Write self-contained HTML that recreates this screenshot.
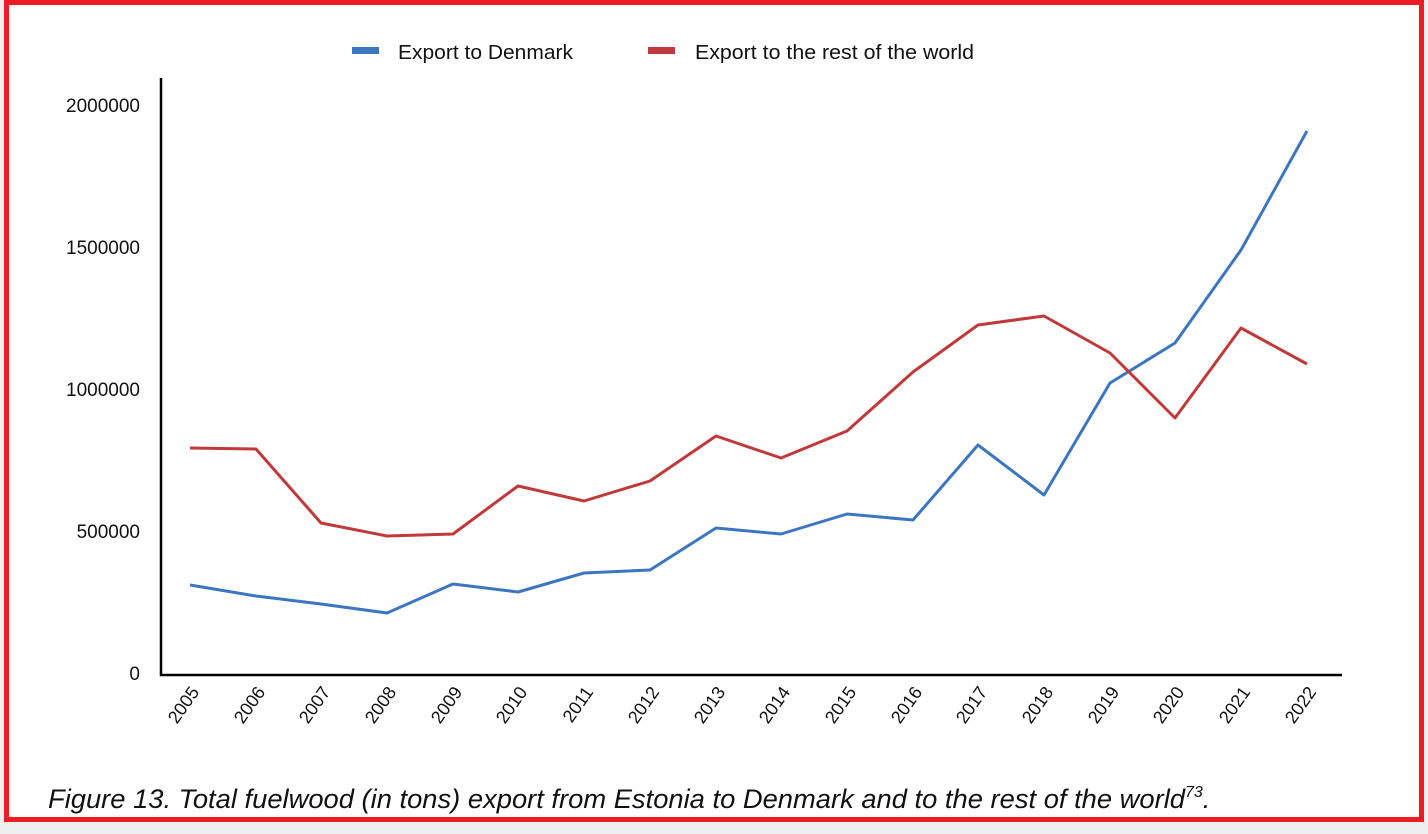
<!DOCTYPE html>
<html><head><meta charset="utf-8"><style>
html,body{margin:0;padding:0;background:#f0f0f0;}
svg{display:block;font-family:"Liberation Sans",sans-serif;}
</style></head><body>
<svg width="1428" height="834" viewBox="0 0 1428 834" xmlns="http://www.w3.org/2000/svg">
<rect x="0" y="0" width="1428" height="834" fill="#efefef"/>
<rect x="6.5" y="2.5" width="1415" height="817" fill="#fff" stroke="#ee1c25" stroke-width="5"/>
<g font-size="20" fill="#111">
<rect x="352" y="47" width="27" height="7" fill="#3d76c0"/>
<text x="398" y="59" textLength="175" lengthAdjust="spacingAndGlyphs">Export to Denmark</text>
<rect x="648" y="47" width="27" height="7" fill="#c0393b"/>
<text x="695" y="59" textLength="279" lengthAdjust="spacingAndGlyphs">Export to the rest of the world</text>
</g>
<g font-size="19" fill="#111" text-anchor="end">
<text x="140" y="112">2000000</text>
<text x="140" y="254">1500000</text>
<text x="140" y="396">1000000</text>
<text x="140" y="538">500000</text>
<text x="140" y="680">0</text>
</g>
<path d="M161 78 V675 H1342" fill="none" stroke="#000" stroke-width="2.5"/>
<g font-size="18" fill="#111" text-anchor="end">
<text transform="translate(200,692) rotate(-55)">2005</text>
<text transform="translate(266,692) rotate(-55)">2006</text>
<text transform="translate(331,692) rotate(-55)">2007</text>
<text transform="translate(397,692) rotate(-55)">2008</text>
<text transform="translate(463,692) rotate(-55)">2009</text>
<text transform="translate(528,692) rotate(-55)">2010</text>
<text transform="translate(594,692) rotate(-55)">2011</text>
<text transform="translate(660,692) rotate(-55)">2012</text>
<text transform="translate(726,692) rotate(-55)">2013</text>
<text transform="translate(791,692) rotate(-55)">2014</text>
<text transform="translate(857,692) rotate(-55)">2015</text>
<text transform="translate(923,692) rotate(-55)">2016</text>
<text transform="translate(988,692) rotate(-55)">2017</text>
<text transform="translate(1054,692) rotate(-55)">2018</text>
<text transform="translate(1120,692) rotate(-55)">2019</text>
<text transform="translate(1185,692) rotate(-55)">2020</text>
<text transform="translate(1251,692) rotate(-55)">2021</text>
<text transform="translate(1317,692) rotate(-55)">2022</text>
</g>
<polyline fill="none" stroke="#3d76c0" stroke-width="3" stroke-linejoin="round" points="190,585 256,596 321,604 387,613 453,584 518,592 584,573 650,570 716,528 781,534 847,514 913,520 978,445 1044,495 1110,383 1175,343 1241,250 1307,131"/>
<polyline fill="none" stroke="#c0393b" stroke-width="3" stroke-linejoin="round" points="190,448 256,449 321,523 387,536 453,534 518,486 584,501 650,481 716,436 781,458 847,431 913,372 978,325 1044,316 1110,353 1175,418 1241,328 1307,364"/>
<text x="48" y="808" font-size="27" font-style="italic" fill="#111"><tspan textLength="1137" lengthAdjust="spacingAndGlyphs">Figure 13. Total fuelwood (in tons) export from Estonia to Denmark and to the rest of the world</tspan><tspan font-size="16" dy="-11">73</tspan><tspan dy="11">.</tspan></text>
</svg>
</body></html>
